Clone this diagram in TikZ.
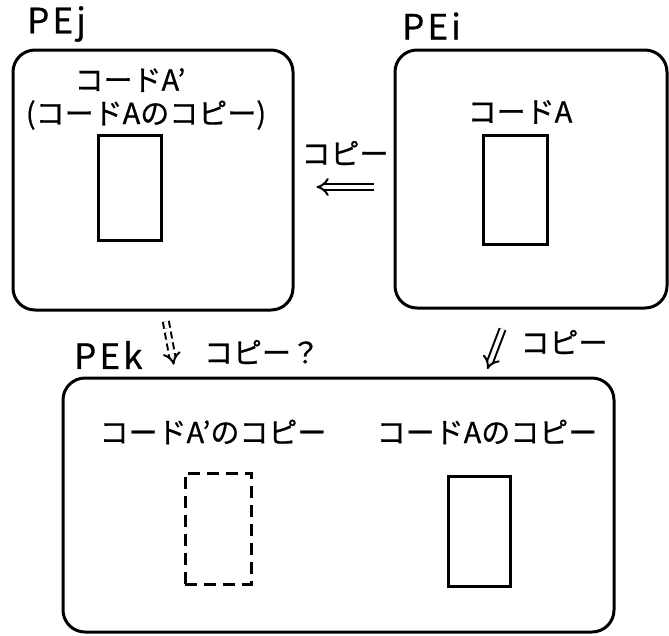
\documentclass[tikz,border=0pt]{standalone}
\usepackage{fontspec}
\setmainfont{Noto Sans CJK JP}[FakeBold=0.6]
\newfontfamily\pefont{Noto Sans CJK JP}[LetterSpace=9, FakeBold=0.6]
\usetikzlibrary{arrows.meta}

\tikzset{
	pebox/.style = {draw, line width=3pt, rounded corners=22pt, inner sep=0pt},
	codebox/.style = {draw, line width=3pt, inner sep=0pt},
	copyarrow/.style = {double, double distance=4pt, line width=2pt, -Implies},
	lbl/.style = {font=\fontsize{29}{31}\selectfont, inner sep=0pt},
	pelbl/.style = {font=\pefont\fontsize{35}{37}\selectfont, inner sep=0pt, anchor=west},
}

\begin{document}
\begin{tikzpicture}[x=1pt, y=-1pt]
	\useasboundingbox (0, 0) rectangle (669, 635);

	% PEj
	\node[pebox, minimum width=280pt, minimum height=260pt] (pej) at (153, 180) {};
	\node[pelbl] (pejname) at (27, 24) {PEj};
	\node[lbl] (codeApname) at (130, 80) {コードA'};
	\node[lbl] (codeApnote) at (146, 115) {(コードAのコピー)};
	\node[codebox, minimum width=63pt, minimum height=105pt] (codeAp) at (129.5, 187.5) {};

	% PEi
	\node[pebox, minimum width=272pt, minimum height=258pt] (pei) at (531, 179) {};
	\node[pelbl] (peiname) at (402, 26) {PEi};
	\node[lbl] (codeAname) at (520, 112) {コードA};
	\node[codebox, minimum width=64pt, minimum height=109pt] (codeA) at (515, 189.5) {};

	% PEk
	\node[pebox, minimum width=551pt, minimum height=254pt] (pek) at (338.5, 505) {};
	\node[pelbl] (pekname) at (74, 355) {PEk};
	\node[lbl] (copyApname) at (213, 432) {コードA'のコピー};
	\node[lbl] (copyAname) at (487, 432) {コードAのコピー};
	\node[codebox, dash pattern=on 12pt off 7pt, minimum width=66pt, minimum height=111pt] (copyAp) at (218, 528.5) {};
	\node[codebox, minimum width=62pt, minimum height=110pt] (copyA) at (479, 531) {};

	% copies between the PEs
	\draw[copyarrow, shorten <=20pt, shorten >=22pt] ([yshift=-8pt]pei.west) -- ([yshift=-8pt]pei.west -| pej.east);
	\node[lbl] (copyij) at (345, 153) {コピー};

	\draw[copyarrow, shorten <=21pt, shorten >=8pt] ([xshift=-21pt]pei.south) -- ([xshift=146pt]pek.north);
	\node[lbl] (copyik) at (564, 342) {コピー};

	\draw[copyarrow, dash pattern=on 7pt off 4pt, shorten <=10pt, shorten >=12pt] ([xshift=11pt]pej.south) -- ([xshift=-162.5pt]pek.north);
	\node[lbl] (copyjk) at (262, 352) {コピー？};
\end{tikzpicture}
\end{document}
